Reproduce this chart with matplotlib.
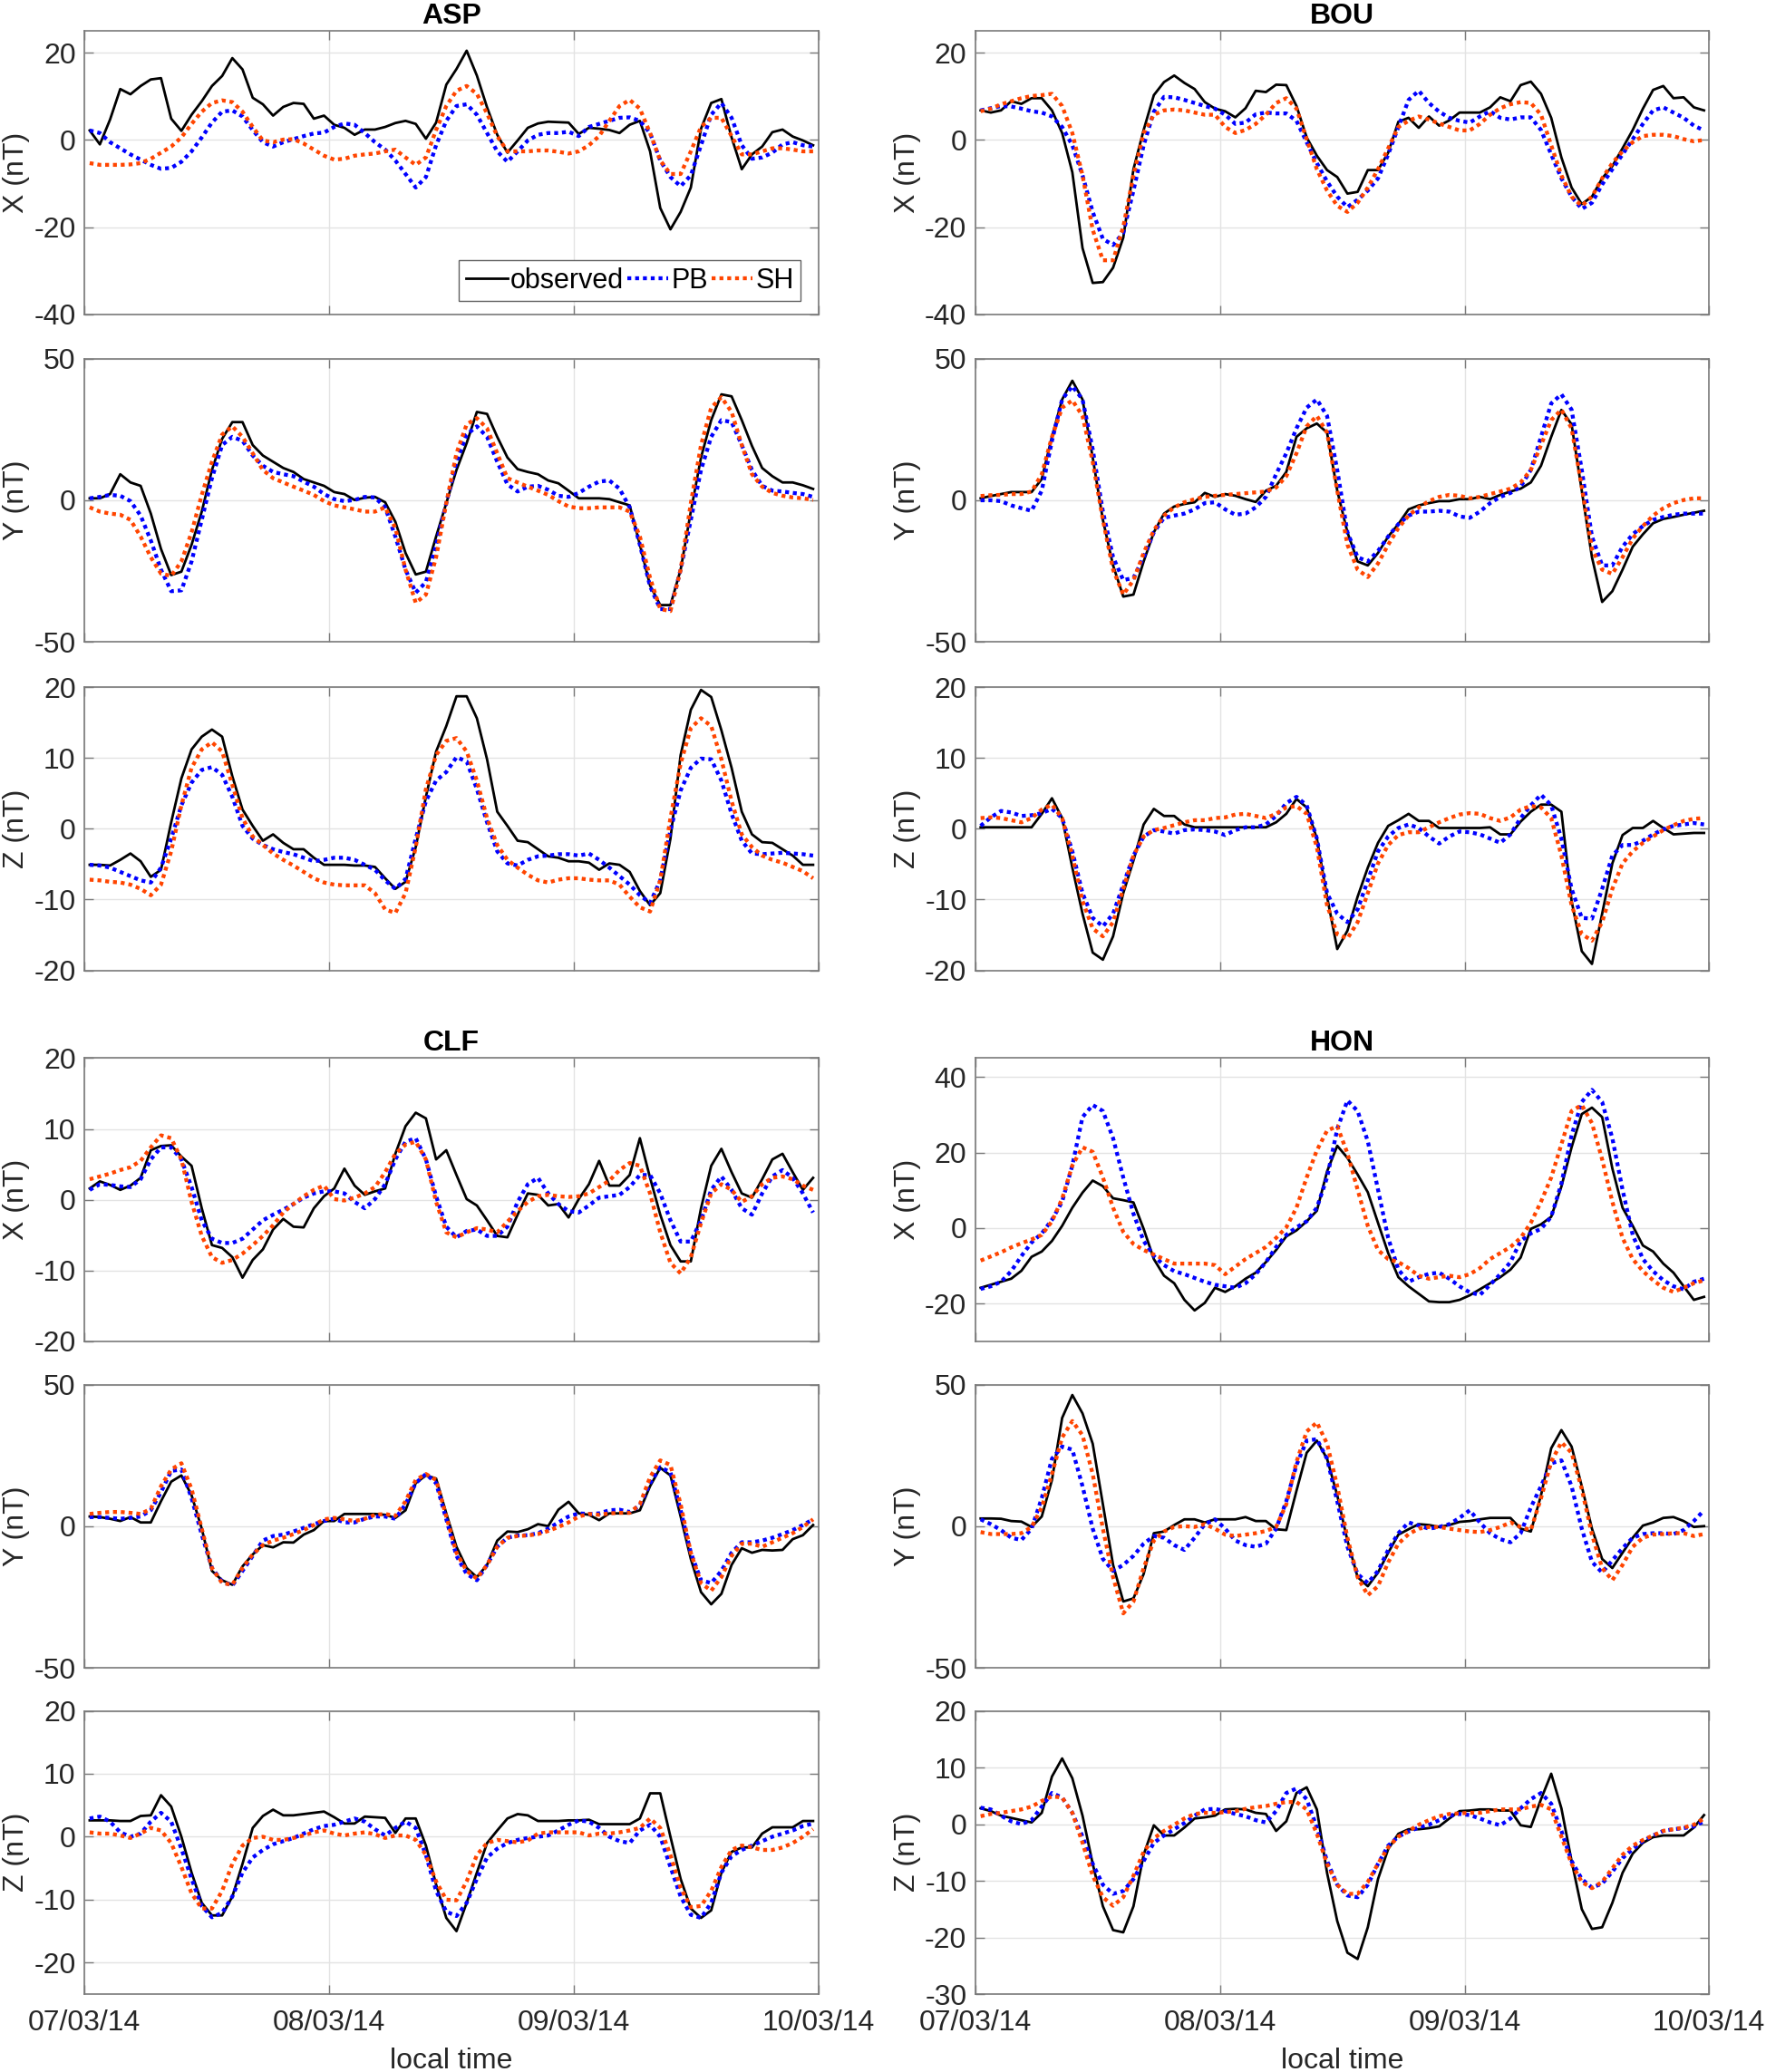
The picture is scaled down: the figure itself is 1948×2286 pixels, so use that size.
import matplotlib
matplotlib.use("Agg")
import matplotlib.pyplot as plt
import matplotlib.dates as mdates
import numpy as np

plt.rcParams['font.family'] = ['Liberation Sans', 'DejaVu Sans']
plt.rcParams['axes.unicode_minus'] = False

# hourly means, 07/03/14 00:30 .. 09/03/14 23:30 local time
times = np.datetime64('2014-03-07T00:30') + np.arange(72) * np.timedelta64(1, 'h')
day_ticks = np.array(['2014-03-07', '2014-03-08', '2014-03-09', '2014-03-10'], dtype='datetime64[D]')

series_labels = ["observed", "PB", "SH"]

# ---------------- ASP ----------------
asp_x_obs = [2.2, -1.0, 4.7, 11.7, 10.5, 12.4, 13.9, 14.2, 4.9, 2.1,
             5.8, 8.9, 12.4, 14.7, 18.8, 16.2, 9.7, 8.2, 5.6, 7.6,
             8.5, 8.3, 4.9, 5.6, 3.5, 2.8, 1.2, 2.4, 2.4, 3.0,
             3.9, 4.4, 3.7, 0.3, 4.0, 12.7, 16.3, 20.5, 14.8, 7.5,
             1.2, -2.9, -0.1, 2.8, 3.8, 4.2, 4.1, 4.0, 1.4, 2.8,
             2.6, 2.3, 1.6, 3.5, 4.4, -2.6, -15.6, -20.5, -16.5, -10.9,
             2.6, 8.5, 9.4, 0.6, -6.7, -3.3, -1.5, 1.8, 2.4, 0.8,
             -0.1, -1.2]
asp_x_pb = [2.2, 1.6, -0.5, -1.9, -3.3, -4.5, -5.7, -6.6, -6.4, -5.0,
            -2.6, 0.6, 4.0, 6.5, 6.8, 5.4, 2.3, -0.5, -1.5, -0.5,
            0.2, 0.9, 1.5, 1.7, 3.0, 3.8, 3.5, 1.6, -0.5, -2.2,
            -4.7, -7.8, -10.9, -8.5, -1.2, 4.4, 7.8, 8.2, 5.8, 1.6,
            -2.6, -5.0, -2.6, -0.1, 1.2, 1.6, 1.6, 1.9, 0.9, 3.0,
            3.7, 4.4, 5.1, 5.2, 4.4, 1.6, -4.7, -8.5, -10.6, -8.1,
            -1.2, 5.8, 8.5, 5.1, -1.2, -4.3, -4.0, -2.9, -1.0, -0.5,
            -1.2, -1.5]
asp_x_sh = [-5.3, -5.7, -5.7, -5.7, -5.6, -5.3, -4.3, -2.9, -1.5, 0.6,
            3.7, 6.5, 8.5, 9.1, 8.7, 6.5, 3.0, -0.1, -0.5, 0.1,
            0.2, -0.8, -2.2, -3.6, -4.5, -4.3, -3.6, -3.3, -3.1, -2.6,
            -2.2, -4.0, -5.7, -4.0, 2.3, 7.8, 11.3, 12.4, 10.6, 6.1,
            0.9, -2.6, -2.6, -2.6, -2.4, -2.4, -2.7, -3.1, -2.6, -1.2,
            0.9, 4.4, 7.8, 9.2, 7.2, 1.6, -4.7, -7.8, -7.8, -2.6,
            3.0, 5.1, 5.1, 0.9, -3.3, -3.3, -2.6, -1.9, -1.9, -2.2,
            -2.6, -2.6]

asp_y_obs = [0.7, 0.7, 2.2, 9.2, 6.3, 5.1, -4.7, -17.2, -26.4, -25.2,
             -15.7, -4.0, 10.7, 21.7, 27.6, 27.6, 19.5, 15.8, 13.6, 11.4,
             10.0, 7.5, 6.3, 5.1, 2.9, 2.2, 0.1, 0.9, 1.2, -0.7,
             -7.6, -18.6, -26.2, -25.2, -12.8, -1.0, 10.7, 20.2, 31.2, 30.5,
             22.4, 15.1, 11.0, 10.0, 9.2, 7.0, 6.0, 3.4, 0.7, 0.7,
             0.7, 0.4, -0.7, -1.8, -15.7, -30.1, -37.0, -37.0, -24.5, -4.0,
             15.1, 28.3, 37.4, 36.7, 28.3, 19.2, 11.4, 8.5, 6.3, 6.3,
             5.3, 4.0]
asp_y_pb = [0.7, 1.2, 1.9, 1.6, -0.3, -5.4, -14.2, -24.5, -32.1, -31.8,
            -21.6, -6.9, 7.8, 19.5, 22.4, 21.0, 15.8, 12.2, 10.0, 9.2,
            8.5, 6.6, 4.8, 2.2, 0.4, -0.3, 0.1, 1.2, 1.0, -2.5,
            -12.8, -24.5, -32.6, -28.9, -15.7, -1.0, 13.6, 23.2, 26.1, 22.4,
            13.6, 5.6, 3.1, 4.8, 5.1, 3.7, 1.6, 1.2, 2.6, 4.8,
            6.6, 7.0, 4.1, -2.5, -15.7, -30.4, -38.4, -38.4, -24.5, -6.9,
            10.7, 22.4, 28.3, 27.6, 19.5, 10.7, 5.1, 3.4, 3.1, 2.6,
            2.2, 1.2]
asp_y_sh = [-2.5, -4.0, -4.7, -5.1, -6.9, -12.8, -20.1, -25.9, -26.7, -21.6,
            -11.3, 1.9, 13.6, 23.2, 26.1, 22.4, 16.6, 10.7, 7.8, 6.3,
            4.8, 3.4, 1.9, -0.3, -1.8, -2.5, -3.2, -4.0, -4.0, -2.5,
            -9.8, -24.5, -36.2, -33.3, -20.1, -1.0, 16.6, 26.8, 29.0, 25.4,
            16.6, 7.8, 6.3, 4.8, 3.4, 1.9, -0.3, -2.2, -2.8, -2.8,
            -2.5, -2.5, -2.5, -4.0, -12.8, -27.4, -38.4, -39.1, -24.5, -1.0,
            19.5, 32.7, 36.4, 31.2, 19.5, 9.2, 4.8, 2.6, 1.6, 1.0,
            0.7, 0.1]

asp_z_obs = [-5.1, -5.1, -5.2, -4.4, -3.5, -4.6, -6.8, -5.8, 0.9, 7.1,
             11.2, 13.0, 14.0, 13.0, 7.4, 2.7, 0.4, -1.7, -0.8, -2.0,
             -2.9, -2.9, -4.1, -5.1, -5.1, -5.1, -5.2, -5.2, -5.4, -7.0,
             -8.5, -7.5, -2.6, 4.5, 10.9, 14.5, 18.7, 18.7, 15.6, 9.8,
             2.4, 0.4, -1.7, -1.9, -2.9, -3.9, -4.1, -4.6, -4.6, -4.8,
             -5.8, -4.9, -5.1, -6.1, -8.8, -10.8, -9.1, -1.4, 10.4, 16.8,
             19.6, 18.6, 13.9, 8.6, 2.4, -0.8, -1.9, -2.0, -2.9, -3.8,
             -5.1, -5.1]
asp_z_pb = [-5.1, -5.2, -5.5, -6.1, -6.7, -7.3, -7.6, -5.5, -1.4, 3.3,
            6.5, 8.3, 8.7, 7.6, 4.5, 0.4, -1.4, -2.3, -2.9, -3.3,
            -3.6, -4.1, -4.6, -4.4, -4.1, -4.1, -4.4, -5.1, -5.8, -7.3,
            -8.5, -7.1, -1.4, 3.9, 6.8, 8.0, 10.1, 9.5, 5.6, 0.9,
            -3.2, -4.9, -5.2, -4.4, -3.9, -3.8, -3.6, -3.6, -3.8, -3.5,
            -4.4, -5.5, -6.7, -7.9, -9.4, -10.5, -7.3, -0.2, 5.4, 8.6,
            9.9, 9.8, 6.8, 2.1, -1.7, -3.5, -3.6, -3.5, -3.4, -3.5,
            -3.6, -3.8]
asp_z_sh = [-7.2, -7.3, -7.5, -7.6, -7.9, -8.5, -9.4, -7.9, -3.2, 3.3,
            8.6, 11.2, 12.2, 10.9, 6.2, 1.5, -1.1, -2.3, -3.5, -4.4,
            -5.2, -6.1, -7.0, -7.6, -7.9, -8.0, -8.0, -8.0, -9.1, -11.4,
            -11.9, -9.1, -2.6, 5.6, 10.4, 12.4, 12.8, 10.9, 6.8, 1.5,
            -2.3, -4.4, -5.5, -6.5, -7.3, -7.6, -7.2, -7.0, -7.0, -7.2,
            -7.3, -7.3, -7.9, -9.6, -11.1, -11.7, -7.3, 1.5, 9.2, 14.2,
            15.6, 14.5, 9.8, 3.9, -0.8, -2.6, -3.8, -4.4, -4.8, -5.4,
            -6.0, -7.0]

# ---------------- BOU ----------------
bou_x_obs = [6.8, 6.3, 6.8, 8.9, 8.3, 9.6, 9.6, 6.8, 1.6, -7.4,
             -24.8, -32.8, -32.6, -29.3, -22.4, -6.7, 2.3, 10.3, 13.3, 14.8,
             13.1, 11.7, 8.7, 7.2, 6.6, 5.2, 7.3, 11.3, 11.0, 12.7,
             12.6, 7.8, 0.6, -3.6, -6.9, -8.5, -12.3, -11.9, -6.9, -6.9,
             -2.9, 4.2, 5.1, 2.8, 5.4, 3.3, 4.5, 6.3, 6.3, 6.3,
             7.5, 9.8, 8.9, 12.6, 13.4, 10.6, 5.1, -4.0, -10.9, -14.7,
             -13.0, -8.8, -6.0, -1.9, 2.3, 7.2, 11.5, 12.4, 9.6, 9.8,
             7.5, 6.8]
bou_x_pb = [6.8, 7.3, 7.8, 7.7, 7.2, 6.6, 6.3, 5.4, 3.0, -1.2,
            -8.1, -16.5, -22.7, -24.1, -21.3, -11.6, -1.2, 6.5, 9.9, 9.8,
            9.2, 8.5, 7.8, 7.2, 5.8, 3.7, 4.0, 5.9, 6.3, 6.1,
            6.1, 4.4, -0.5, -5.3, -9.5, -13.0, -15.4, -13.7, -11.6, -8.8,
            -3.3, 3.0, 9.2, 11.3, 8.5, 6.5, 5.1, 4.4, 4.0, 5.4,
            6.6, 5.1, 4.7, 5.2, 5.2, 2.3, -3.3, -8.8, -13.0, -15.8,
            -14.4, -10.2, -6.7, -3.3, 0.2, 3.7, 6.8, 7.5, 6.3, 5.1,
            3.3, 2.2]
bou_x_sh = [6.6, 7.2, 8.2, 8.9, 9.6, 10.1, 10.3, 10.6, 7.8, 1.6,
            -8.1, -20.6, -27.6, -27.6, -19.9, -8.1, 1.6, 5.8, 6.8, 7.0,
            6.8, 6.3, 5.8, 5.8, 3.0, 1.6, 2.3, 3.7, 5.8, 8.5,
            9.6, 7.2, 0.2, -6.7, -11.6, -15.1, -16.5, -14.4, -10.9, -6.7,
            -1.9, 3.0, 4.4, 5.4, 4.7, 3.8, 3.0, 2.2, 2.2, 3.7,
            5.8, 7.3, 8.2, 8.7, 8.5, 5.8, -1.2, -8.1, -13.0, -15.1,
            -13.0, -8.8, -5.3, -2.6, -0.5, 0.9, 1.2, 1.2, 0.9, 0.2,
            -0.3, 0.0]

bou_y_obs = [0.7, 1.5, 2.2, 2.9, 2.9, 2.9, 7.5, 22.4, 35.6, 42.2,
             35.6, 15.1, -6.9, -23.0, -34.0, -33.3, -21.6, -11.3, -4.7, -2.2,
             -1.3, -0.7, 2.6, 1.2, 2.2, 1.6, 0.4, -0.6, 3.4, 5.1,
             10.0, 22.4, 25.4, 27.1, 23.9, 3.4, -11.3, -21.6, -23.0, -18.6,
             -12.8, -8.4, -3.2, -1.8, -1.0, -0.3, -0.3, 0.4, 0.4, 1.2,
             0.4, 1.9, 3.1, 4.1, 6.3, 12.2, 22.4, 31.9, 26.8, 3.4,
             -20.1, -35.9, -32.1, -24.5, -16.4, -12.0, -8.1, -6.6, -5.9, -5.1,
             -4.4, -3.7]
bou_y_pb = [0.0, 0.0, -0.3, -1.8, -2.8, -3.7, 3.4, 21.0, 35.6, 40.3,
            35.6, 18.0, -4.0, -20.1, -28.2, -27.4, -20.1, -11.3, -6.2, -5.4,
            -4.7, -3.2, -1.0, -0.7, -3.2, -5.1, -4.7, -2.5, 1.2, 9.2,
            16.6, 25.4, 32.7, 35.6, 29.8, 10.7, -11.3, -20.1, -21.6, -17.9,
            -12.8, -8.4, -5.4, -4.0, -4.0, -3.7, -4.0, -5.7, -6.2, -4.0,
            -1.0, 1.2, 2.6, 4.8, 10.7, 22.4, 34.2, 37.4, 32.0, 10.7,
            -12.8, -23.0, -23.0, -16.4, -12.0, -9.1, -6.9, -5.9, -5.1, -4.7,
            -4.7, -4.7]
bou_y_sh = [1.5, 1.8, 1.9, 2.2, 2.2, 3.1, 9.2, 22.4, 32.7, 35.3,
            29.8, 13.6, -6.9, -24.5, -33.3, -28.2, -18.6, -10.6, -5.4, -2.5,
            -0.7, 0.4, 1.2, 1.6, 1.9, 2.2, 2.5, 2.8, 3.1, 4.5,
            8.5, 16.6, 26.1, 29.8, 23.9, 3.4, -15.7, -24.5, -27.1, -22.3,
            -15.7, -9.8, -5.4, -2.5, -0.3, 1.2, 1.9, 1.6, 0.7, 1.2,
            2.2, 3.1, 4.1, 6.3, 10.7, 19.5, 28.3, 32.0, 25.4, 4.8,
            -17.2, -24.5, -26.0, -20.1, -13.5, -9.1, -5.4, -2.8, -1.0, 0.1,
            0.7, 0.7]

bou_z_obs = [0.2, 0.2, 0.2, 0.2, 0.2, 0.2, 2.1, 4.3, 1.5, -5.5,
             -12.0, -17.5, -18.5, -15.2, -9.1, -4.5, 0.6, 2.8, 1.8, 1.8,
             0.6, 0.2, 0.2, 0.2, 0.2, 0.2, 0.2, 0.2, 0.2, 0.9,
             2.1, 4.2, 3.0, -1.4, -9.6, -17.0, -14.4, -9.6, -5.5, -2.0,
             0.4, 1.2, 2.1, 1.1, 1.1, 0.1, 0.1, 0.1, 0.1, 0.1,
             0.2, -0.8, -0.8, 1.0, 2.4, 3.4, 3.4, 2.4, -10.2, -17.3,
             -19.1, -12.0, -4.9, -0.9, 0.1, 0.1, 1.1, 0.1, -0.8, -0.7,
             -0.6, -0.6]
bou_z_pb = [0.4, 1.6, 2.5, 2.3, 1.8, 1.9, 2.2, 2.8, 1.5, -3.2,
            -9.1, -12.6, -13.8, -12.0, -7.9, -3.8, -1.1, -0.2, -0.4, -0.7,
            -0.2, -0.1, -0.2, -0.4, -0.9, -0.2, 0.2, 0.2, 0.6, 1.8,
            3.6, 4.5, 3.3, -1.4, -9.1, -12.0, -13.2, -11.4, -7.3, -3.2,
            -1.1, 0.1, 0.6, 0.1, -1.1, -2.1, -1.1, -0.4, -0.5, -0.8,
            -1.4, -2.0, -0.8, 1.5, 3.3, 4.8, 3.3, -1.4, -8.5, -12.6,
            -12.7, -8.5, -3.8, -2.3, -2.3, -1.7, -0.8, -0.1, 0.4, 0.6,
            0.8, 0.6]
bou_z_sh = [1.5, 1.6, 1.5, 1.2, 0.9, 1.5, 2.7, 3.4, 1.5, -3.8,
            -10.2, -14.1, -15.2, -13.2, -8.5, -3.8, -1.1, -0.2, 0.1, 0.5,
            0.9, 1.2, 1.2, 1.5, 1.6, 2.0, 2.1, 1.8, 1.5, 2.1,
            3.0, 3.2, 2.1, -2.6, -10.8, -14.9, -15.5, -13.2, -9.1, -4.9,
            -2.3, -0.9, -0.5, -0.5, 0.2, 0.9, 1.5, 2.0, 2.2, 2.1,
            1.5, 1.1, 1.6, 2.7, 3.2, 3.0, 1.5, -3.8, -10.8, -14.9,
            -15.8, -13.2, -8.5, -4.9, -3.2, -2.0, -1.1, -0.2, 0.5, 1.1,
            1.4, 1.5]

# ---------------- CLF ----------------
clf_x_obs = [1.6, 2.6, 2.1, 1.4, 2.0, 3.1, 7.0, 7.6, 7.7, 6.1,
             4.8, -1.2, -6.4, -6.8, -8.1, -11.0, -8.5, -7.0, -4.2, -2.7,
             -3.8, -3.9, -1.2, 0.5, 1.6, 4.4, 2.0, 0.7, 1.2, 1.6,
             6.5, 10.4, 12.3, 11.5, 5.7, 7.0, 3.5, 0.1, -0.8, -2.9,
             -5.1, -5.3, -2.1, 0.9, 0.7, -0.8, -0.6, -2.5, 0.1, 2.2,
             5.5, 2.0, 2.0, 3.5, 8.7, 3.1, -2.1, -6.4, -8.7, -8.7,
             -1.2, 4.8, 7.2, 3.9, 0.9, 0.3, 2.9, 5.7, 6.5, 3.9,
             1.4, 3.1]
clf_x_pb = [1.4, 2.2, 2.1, 1.9, 1.8, 2.9, 5.7, 7.4, 7.4, 5.7,
            1.8, -2.9, -5.5, -6.1, -6.1, -5.5, -4.2, -2.9, -2.1, -1.4,
            -0.6, 0.3, 0.9, 1.2, 1.2, 0.9, -0.3, -1.2, 0.1, 2.2,
            5.7, 8.2, 8.7, 5.7, 0.5, -3.8, -5.3, -4.4, -4.2, -5.1,
            -5.1, -3.8, -0.3, 2.2, 3.1, 0.9, -0.6, -1.6, -1.8, -0.8,
            0.3, 0.5, 0.7, 1.8, 3.5, 3.5, 0.9, -2.9, -5.9, -5.9,
            -2.9, 1.4, 3.3, 1.4, -1.2, -2.1, 0.9, 3.3, 4.2, 3.1,
            0.9, -1.8]
clf_x_sh = [2.9, 3.3, 3.7, 4.2, 4.6, 5.5, 7.4, 9.1, 8.7, 5.7,
            -0.3, -5.1, -8.1, -8.9, -8.5, -7.6, -6.4, -5.1, -3.6, -1.8,
            -0.6, 0.5, 1.4, 2.0, 0.1, -0.1, 0.3, 0.9, 1.8, 3.9,
            6.5, 7.8, 8.2, 5.7, -0.3, -4.6, -5.3, -4.6, -4.0, -4.2,
            -4.6, -3.1, -1.6, -0.3, 0.5, 0.7, 0.5, 0.4, 0.5, 0.9,
            1.8, 2.7, 4.2, 5.2, 4.8, 0.9, -4.6, -8.9, -10.4, -8.1,
            -3.3, 0.9, 2.2, 1.4, -0.3, 0.5, 2.2, 3.1, 3.3, 2.9,
            2.0, 1.4]

clf_y_obs = [3.4, 3.2, 2.6, 1.8, 3.2, 1.3, 1.3, 8.8, 15.7, 17.9,
             10.9, -0.9, -15.8, -19.1, -20.7, -14.2, -10.0, -6.7, -7.5, -5.7,
             -5.8, -3.0, -1.4, 1.8, 1.8, 4.3, 4.3, 4.3, 4.3, 4.0,
             2.9, 5.6, 15.2, 17.9, 16.8, 4.5, -7.3, -14.8, -18.0, -13.7,
             -5.1, -1.9, -2.1, -1.1, 0.7, 0.0, 5.8, 8.6, 4.5, 4.0,
             2.1, 4.5, 4.5, 4.5, 5.6, 14.1, 20.6, 17.9, 3.4, -11.6,
             -23.3, -27.6, -23.9, -13.7, -7.8, -9.4, -8.4, -8.6, -8.4, -4.6,
             -3.2, 0.4]
clf_y_pb = [3.2, 3.2, 2.9, 2.6, 2.9, 3.4, 5.6, 12.0, 19.5, 20.0,
            9.9, -3.0, -14.8, -19.6, -21.0, -15.8, -10.5, -5.1, -3.5, -3.0,
            -1.9, -0.6, 0.7, 1.8, 2.6, 1.3, 1.3, 2.6, 3.4, 3.4,
            2.6, 7.7, 15.2, 18.4, 15.2, 2.4, -10.5, -16.9, -19.1, -13.7,
            -7.3, -4.1, -3.3, -3.2, -2.5, -0.9, 1.3, 3.4, 4.5, 4.3,
            4.5, 5.6, 5.8, 5.0, 7.2, 15.2, 20.8, 19.0, 5.6, -9.4,
            -19.1, -20.1, -15.8, -9.4, -5.7, -5.7, -5.1, -4.1, -2.8, -1.4,
            0.4, 2.4]
clf_y_sh = [4.3, 4.7, 5.0, 5.0, 4.7, 4.3, 6.1, 14.1, 20.0, 22.2,
            13.1, -0.9, -14.8, -20.1, -20.7, -14.8, -10.0, -6.7, -5.1, -4.1,
            -2.8, -1.4, 0.4, 2.4, 2.9, 2.4, 1.8, 2.6, 4.0, 4.3,
            3.6, 8.8, 16.3, 18.4, 16.3, 3.4, -9.4, -15.8, -18.5, -13.7,
            -7.3, -4.1, -3.5, -3.3, -2.8, -1.7, -0.3, 1.3, 3.4, 4.3,
            4.0, 4.5, 4.7, 4.7, 7.7, 17.3, 23.2, 21.6, 7.7, -9.4,
            -20.1, -22.8, -18.0, -10.5, -6.2, -6.2, -7.3, -5.7, -4.1, -2.5,
            -0.3, 2.4]

clf_z_obs = [2.6, 2.6, 2.6, 2.5, 2.5, 3.3, 3.4, 6.6, 4.8, 0.0,
             -5.7, -10.5, -12.5, -12.5, -9.5, -4.3, 1.4, 3.3, 4.3, 3.4,
             3.4, 3.6, 3.8, 4.0, 3.1, 2.1, 2.1, 3.2, 3.1, 3.0,
             0.6, 2.9, 2.9, -1.4, -7.6, -12.9, -15.0, -10.5, -5.7, -1.0,
             1.0, 2.9, 3.6, 3.4, 2.5, 2.5, 2.5, 2.6, 2.6, 2.7,
             2.0, 2.0, 2.0, 2.0, 2.9, 6.9, 6.9, 0.0, -6.7, -11.4,
             -12.9, -11.7, -5.7, -2.4, -1.7, -1.7, 0.5, 1.5, 1.5, 1.5,
             2.5, 2.5]
clf_z_pb = [2.9, 3.2, 2.4, 0.7, 0.0, 0.5, 2.4, 3.8, 2.4, -1.9,
            -6.7, -11.0, -12.8, -12.1, -9.5, -5.7, -3.3, -2.1, -1.2, -0.7,
            -0.2, 0.5, 1.2, 1.7, 1.9, 2.4, 2.9, 2.4, 1.2, 0.2,
            1.4, 2.4, 1.4, -2.9, -8.6, -11.9, -12.6, -10.5, -6.7, -3.3,
            -1.9, -1.0, -0.5, -0.2, 0.0, 0.2, 1.0, 1.9, 2.6, 2.4,
            1.4, 0.0, -0.7, -1.0, 1.0, 1.9, 0.0, -4.8, -9.5, -12.4,
            -12.9, -10.5, -5.7, -3.1, -2.1, -1.4, -0.7, 0.0, 0.5, 1.0,
            1.7, 2.1]
clf_z_sh = [0.7, 0.5, 0.5, 0.2, -0.2, 0.5, 1.4, 1.0, -1.0, -4.8,
            -9.0, -11.4, -11.4, -8.6, -4.3, -1.4, -0.2, 0.0, -0.5, -0.5,
            -0.2, 0.2, 0.7, 1.0, 0.5, 0.2, 0.5, 0.7, 0.4, -0.2,
            0.2, 0.2, -0.5, -2.9, -7.1, -10.0, -10.1, -7.1, -2.9, -1.0,
            -0.5, -0.7, -0.9, -0.6, 0.5, 0.7, 0.7, 0.7, 0.7, 0.2,
            0.5, 0.5, 0.7, 1.0, 1.4, 2.9, 1.4, -2.9, -8.1, -11.2,
            -11.0, -8.6, -4.8, -2.1, -1.4, -1.7, -2.1, -2.1, -1.7, -1.0,
            0.0, 1.2]

# ---------------- HON ----------------
hon_x_obs = [-15.8, -15.0, -14.2, -13.4, -11.3, -7.6, -6.2, -3.4, 0.6, 5.4,
             9.4, 12.6, 11.1, 7.9, 7.4, 6.8, -0.2, -8.2, -12.6, -14.6,
             -19.0, -21.8, -19.8, -15.8, -16.9, -15.4, -13.4, -11.8, -9.0, -5.8,
             -2.2, -0.6, 1.8, 4.6, 15.0, 21.8, 18.6, 14.2, 9.5, 1.4,
             -6.6, -13.0, -15.4, -17.4, -19.4, -19.6, -19.6, -19.0, -17.8, -16.2,
             -14.6, -13.0, -11.0, -7.8, -0.2, 1.0, 3.0, 11.0, 21.4, 30.2,
             31.9, 29.4, 15.8, 5.4, 0.6, -4.6, -6.2, -9.4, -11.8, -15.4,
             -19.0, -18.2]
hon_x_pb = [-16.1, -15.4, -14.2, -11.4, -7.4, -3.8, -1.4, 2.2, 7.0, 16.6,
            29.4, 32.6, 31.0, 23.8, 13.4, 3.8, -3.4, -7.4, -9.8, -11.4,
            -12.2, -13.2, -14.2, -15.0, -15.4, -15.8, -14.6, -12.2, -9.0, -5.0,
            -1.8, 0.2, 1.8, 5.4, 13.4, 26.2, 33.8, 31.0, 23.0, 10.2,
            -2.6, -11.0, -14.2, -13.0, -12.1, -11.8, -13.4, -15.4, -17.0, -17.7,
            -15.0, -12.2, -9.0, -3.4, -1.4, -0.2, 3.0, 11.8, 24.6, 33.4,
            36.6, 33.4, 23.8, 10.2, -1.8, -8.2, -11.4, -13.8, -15.4, -16.2,
            -14.2, -13.4]
hon_x_sh = [-8.6, -7.5, -6.4, -5.1, -4.0, -3.0, -1.8, 1.8, 7.8, 16.6,
            21.4, 20.2, 13.4, 5.4, -1.0, -4.2, -5.8, -7.0, -8.2, -9.4,
            -9.4, -9.4, -9.4, -9.8, -12.2, -10.2, -8.2, -6.6, -5.0, -2.6,
            0.2, 5.4, 13.4, 20.6, 25.8, 27.0, 19.8, 10.2, 0.6, -5.8,
            -8.2, -9.0, -10.6, -12.6, -13.4, -13.0, -12.6, -13.0, -12.2, -10.6,
            -8.2, -6.6, -5.0, -2.6, 1.4, 7.0, 13.4, 22.2, 31.0, 32.6,
            27.8, 18.2, 7.0, -2.6, -8.2, -11.4, -13.8, -15.8, -16.9, -15.8,
            -14.6, -13.8]

hon_y_obs = [2.7, 2.7, 2.6, 1.8, 1.6, -0.3, 3.4, 16.3, 38.2, 46.3,
             39.8, 29.1, 7.7, -13.7, -26.6, -25.5, -16.9, -2.5, -1.9, 0.4,
             2.4, 2.4, 1.3, 2.4, 2.4, 2.4, 3.2, 1.8, 1.8, -1.1,
             -1.4, 12.5, 25.9, 30.2, 23.8, 10.9, -5.1, -18.0, -21.2, -16.4,
             -9.4, -3.0, -1.1, 0.7, 0.4, -0.3, 0.4, 1.5, 1.8, 2.4,
             2.9, 2.9, 2.9, -0.9, -1.9, 10.9, 27.5, 33.9, 28.1, 14.1,
             -0.9, -11.6, -14.8, -9.4, -4.1, 0.2, 1.3, 2.9, 3.2, 1.8,
             -0.3, 0.0]
hon_y_pb = [2.4, 0.7, -1.4, -4.1, -4.9, -0.9, 9.9, 23.8, 28.1, 27.0,
            14.1, -0.9, -11.6, -15.8, -13.7, -10.5, -6.2, -3.5, -4.1, -6.7,
            -8.4, -4.1, 0.7, 2.4, -0.9, -5.1, -6.7, -7.3, -6.2, -0.9,
            8.8, 21.6, 30.2, 30.7, 23.8, 8.8, -7.3, -16.9, -20.1, -15.8,
            -8.4, -2.5, 1.3, 0.2, -0.9, -0.3, 0.7, 2.9, 5.6, 1.3,
            -2.5, -4.6, -5.7, -2.5, 6.6, 14.1, 22.2, 23.2, 14.1, -0.9,
            -12.6, -16.4, -12.1, -7.8, -4.1, -2.8, -2.5, -2.5, -2.8, -1.4,
            1.8, 5.6]
hon_y_sh = [-2.1, -2.8, -2.8, -2.8, -2.5, -0.3, 6.6, 18.4, 31.3, 37.1,
            32.1, 18.4, -0.9, -18.0, -30.8, -26.6, -14.8, -5.1, -1.9, -0.3,
            0.0, -0.3, 0.7, -0.9, -3.0, -3.5, -3.0, -2.5, -1.7, -0.3,
            7.7, 22.7, 33.4, 36.6, 29.1, 14.1, -4.1, -18.0, -24.4, -21.2,
            -12.8, -6.2, -2.8, -0.9, -0.3, -0.3, -0.9, -1.4, -1.9, -2.1,
            -1.4, -0.3, 1.3, -0.3, -1.4, 9.9, 22.7, 29.6, 25.9, 13.1,
            -3.0, -14.8, -19.1, -13.7, -7.3, -4.1, -3.0, -2.8, -2.5, -2.5,
            -3.5, -2.8]

hon_z_obs = [2.8, 2.3, 1.5, 1.1, 0.7, 0.3, 2.0, 8.4, 11.6, 8.1,
             1.5, -7.0, -14.5, -18.7, -19.1, -14.5, -5.4, -0.2, -2.0, -2.0,
             -0.6, 1.0, 1.2, 1.5, 2.6, 2.7, 2.6, 2.0, 1.8, -1.2,
             0.5, 5.5, 6.5, 2.6, -8.6, -17.1, -22.7, -23.8, -18.2, -9.7,
             -4.4, -1.7, -0.9, -0.9, -0.7, -0.4, 1.0, 2.3, 2.4, 2.6,
             2.6, 2.4, 2.4, -0.2, -0.5, 4.4, 8.9, 2.8, -6.5, -15.0,
             -18.5, -18.2, -13.9, -8.6, -5.2, -3.3, -2.3, -2.0, -2.0, -2.0,
             -0.6, 1.6]
hon_z_pb = [2.9, 2.6, 1.5, 0.5, 0.0, 0.7, 3.1, 5.5, 4.7, 2.0,
            -2.2, -7.0, -10.7, -12.3, -11.8, -9.7, -6.5, -3.3, -2.0, -0.9,
            0.2, 1.5, 2.6, 2.7, 2.3, 1.8, 1.4, 0.7, 0.3, 2.3,
            5.5, 6.3, 4.4, -0.6, -6.5, -10.7, -12.6, -12.9, -10.7, -7.0,
            -3.8, -2.2, -1.3, -0.6, -0.1, 0.7, 1.5, 1.8, 1.6, 1.0,
            0.3, -0.2, 1.0, 2.8, 4.4, 5.5, 3.6, -1.2, -6.5, -9.7,
            -11.2, -10.5, -8.4, -6.0, -4.4, -3.0, -2.0, -1.2, -0.9, -0.7,
            -0.4, 0.5]
hon_z_sh = [1.4, 1.8, 2.0, 2.3, 2.6, 3.1, 4.1, 4.9, 4.7, 2.0,
            -3.3, -9.1, -12.9, -14.4, -12.9, -9.1, -4.9, -2.5, -1.2, -0.1,
            1.0, 1.8, 2.0, 2.0, 2.1, 2.3, 2.7, 3.0, 3.2, 3.6,
            3.9, 3.9, 2.6, -1.7, -7.0, -10.7, -12.3, -12.3, -10.2, -7.0,
            -4.1, -2.2, -1.2, -0.1, 0.7, 1.4, 1.8, 1.9, 2.0, 2.0,
            2.3, 2.6, 2.6, 2.6, 3.1, 3.4, 2.6, -2.2, -7.0, -10.2,
            -11.3, -10.2, -7.8, -5.4, -3.8, -2.8, -2.0, -1.2, -0.9, -0.6,
            -0.1, 1.0]

# panel table: station, component, (obs, pb, sh), y-limits, y-ticks
panels = {
    "ASP": [("X", (asp_x_obs, asp_x_pb, asp_x_sh), (-40, 25), [-40, -20, 0, 20]),
            ("Y", (asp_y_obs, asp_y_pb, asp_y_sh), (-50, 50), [-50, 0, 50]),
            ("Z", (asp_z_obs, asp_z_pb, asp_z_sh), (-20, 20), [-20, -10, 0, 10, 20])],
    "BOU": [("X", (bou_x_obs, bou_x_pb, bou_x_sh), (-40, 25), [-40, -20, 0, 20]),
            ("Y", (bou_y_obs, bou_y_pb, bou_y_sh), (-50, 50), [-50, 0, 50]),
            ("Z", (bou_z_obs, bou_z_pb, bou_z_sh), (-20, 20), [-20, -10, 0, 10, 20])],
    "CLF": [("X", (clf_x_obs, clf_x_pb, clf_x_sh), (-20, 20), [-20, -10, 0, 10, 20]),
            ("Y", (clf_y_obs, clf_y_pb, clf_y_sh), (-50, 50), [-50, 0, 50]),
            ("Z", (clf_z_obs, clf_z_pb, clf_z_sh), (-25, 20), [-20, -10, 0, 10, 20])],
    "HON": [("X", (hon_x_obs, hon_x_pb, hon_x_sh), (-30, 45), [-20, 0, 20, 40]),
            ("Y", (hon_y_obs, hon_y_pb, hon_y_sh), (-50, 50), [-50, 0, 50]),
            ("Z", (hon_z_obs, hon_z_pb, hon_z_sh), (-30, 20), [-30, -20, -10, 0, 10, 20])],
}

# layout (figure fractions)
col_x = {"ASP": 0.0479, "BOU": 0.5524, "CLF": 0.0479, "HON": 0.5524}
col_w = 0.4154
row_y = [0.8483, 0.6902, 0.5317, 0.3526, 0.1951, 0.0376]
row_h = 0.1367
first_row = {"ASP": 0, "BOU": 0, "CLF": 3, "HON": 3}

styles = [dict(color="black", lw=2.0, ls="-"),
          dict(color="#0000ff", lw=3.1, ls=(0, (1, 1))),
          dict(color="#ff4500", lw=3.1, ls=(0, (1, 1)))]

tick_color = "#262626"
box_color = "#7a7a7a"
fs = 23

fig = plt.figure(figsize=(19.48, 22.86), dpi=100)

for station, comps in panels.items():
    for k, (comp, data, ylim, yticks) in enumerate(comps):
        row = first_row[station] + k
        ax = fig.add_axes([col_x[station], row_y[row], col_w, row_h])
        handles = []
        for vals, label, st in zip(data, series_labels, styles):
            h, = ax.plot(times, vals, label=label, **st)
            h.set_dash_capstyle("butt")
            handles.append(h)

        ax.set_xlim(day_ticks[0], day_ticks[-1])
        ax.set_xticks(day_ticks)
        ax.xaxis.set_major_formatter(mdates.DateFormatter("%d/%m/%y"))
        ax.set_ylim(*ylim)
        ax.set_yticks(yticks)
        ax.grid(True, color="#e3e3e3", lw=1.0)
        ax.set_axisbelow(True)
        for sp in ax.spines.values():
            sp.set_color(box_color)
            sp.set_linewidth(1.2)
        ax.tick_params(direction="in", length=7, width=1.0, color=box_color,
                       top=True, right=True, labelsize=fs, labelcolor=tick_color)
        ax.tick_params(axis="y", pad=7)
        ax.tick_params(axis="x", pad=12)
        ax.set_ylabel(f"{comp} (nT)", fontsize=fs, color=tick_color)
        ax.yaxis.set_label_coords(-0.074, 0.5)

        if k == 0:
            ax.set_title(station, fontsize=23, fontweight="bold", pad=6)
        if row == 5:
            ax.set_xlabel("local time", fontsize=fs, color=tick_color, labelpad=9)
        else:
            ax.tick_params(axis="x", labelbottom=False)

        if station == "ASP" and comp == "X":
            leg = ax.legend(handles=handles, ncol=3, loc="lower right",
                            bbox_to_anchor=(0.9765, 0.046), borderaxespad=0,
                            fontsize=22, handlelength=1.5, handletextpad=0.1,
                            columnspacing=0.12, borderpad=0.25, fancybox=False,
                            framealpha=1)
            leg.get_frame().set_edgecolor("#606060")
            leg.get_frame().set_linewidth(1.0)

fig.savefig("out.png", dpi=100)
